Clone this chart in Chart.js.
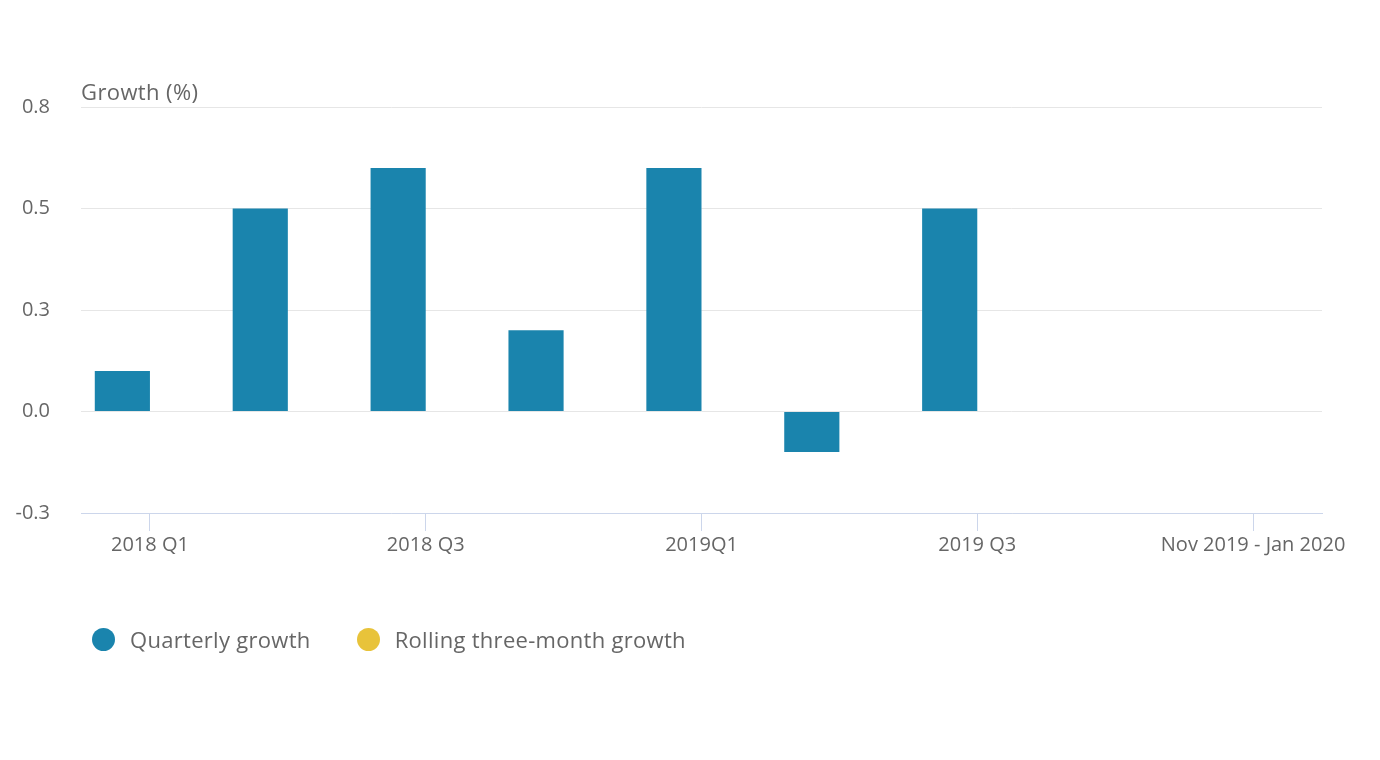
<!DOCTYPE html>
<html><head><meta charset="utf-8">
<script src="https://cdn.jsdelivr.net/npm/chart.js@4"></script>
<style>html,body{margin:0;padding:0;background:#fff}#w{position:relative;width:1380px;height:760px}
#lg{position:absolute;left:92px;top:624px;font:22px "Open Sans",sans-serif;color:#666;display:flex;align-items:center;letter-spacing:0.3px}
#lg span.d{display:inline-block;width:23px;height:23px;border-radius:50%;margin-right:15px}
#lg span.i{display:flex;align-items:center;margin-right:46px}</style>
</head><body><div id="w"><canvas id="c"></canvas>
<div id="lg"><span class="i"><span class="d" style="background:#1a84ad"></span>Quarterly growth</span><span class="i"><span class="d" style="background:#e8c33a"></span>Rolling three-month growth</span></div></div>
<script>
const categories=["2018 Q1","2018 Q2","2018 Q3","2018 Q4","2019Q1","2019 Q2","2019 Q3","2019 Q4","Nov 2019 - Jan 2020"];
const shownLabels=["2018 Q1","","2018 Q3","","2019Q1","","2019 Q3","","Nov 2019 - Jan 2020"];
const quarterly=[0.1,0.5,0.6,0.2,0.6,-0.1,0.5,null,null];
const rolling=[null,null,null,null,null,null,null,null,null];
const yTicks=[-0.25,0,0.25,0.5,0.75];
const FONT='"Open Sans", sans-serif';
const titlePlugin={id:'t',afterDraw(ch){const c=ch.ctx;c.save();c.font='22px '+FONT;c.letterSpacing='0.4px';c.fillStyle='#666';c.textBaseline='bottom';c.fillText('Growth (%)',ch.chartArea.left,ch.chartArea.top-2);c.restore();}};
new Chart(document.getElementById('c'),{type:'bar',
data:{labels:categories,datasets:[
{label:'Quarterly growth',data:quarterly,backgroundColor:'#1a84ad',borderWidth:0},
{label:'Rolling three-month growth',data:rolling,backgroundColor:'#e8c33a',borderWidth:0}]},
options:{responsive:true,maintainAspectRatio:false,animation:false,
layout:{padding:{top:107,right:58,left:0,bottom:141}},
datasets:{bar:{categoryPercentage:0.8,barPercentage:1}},
plugins:{tooltip:{enabled:false},legend:{display:false}},
scales:{
 x:{afterFit(s){s.height=106;},grid:{drawOnChartArea:false,offset:false,tickLength:18,color:(c)=>c.index%2===0?'#ccd6eb':'rgba(0,0,0,0)'},
  border:{color:'#ccd6eb'},
  ticks:{autoSkip:false,maxRotation:0,color:'#666',font:{family:FONT,size:20},padding:2,callback:(v,i)=>shownLabels[i]}},
 y:{min:-0.25,max:0.75,afterFit(s){s.width=81;},afterBuildTicks(s){s.ticks=yTicks.map(v=>({value:v}));},
  grid:{color:'#e6e6e6',drawTicks:false},border:{display:false},
  ticks:{color:'#666',padding:31,font:{family:FONT,size:20},callback:v=>v.toFixed(1)}}}},
plugins:[titlePlugin]});
</script></body></html>
